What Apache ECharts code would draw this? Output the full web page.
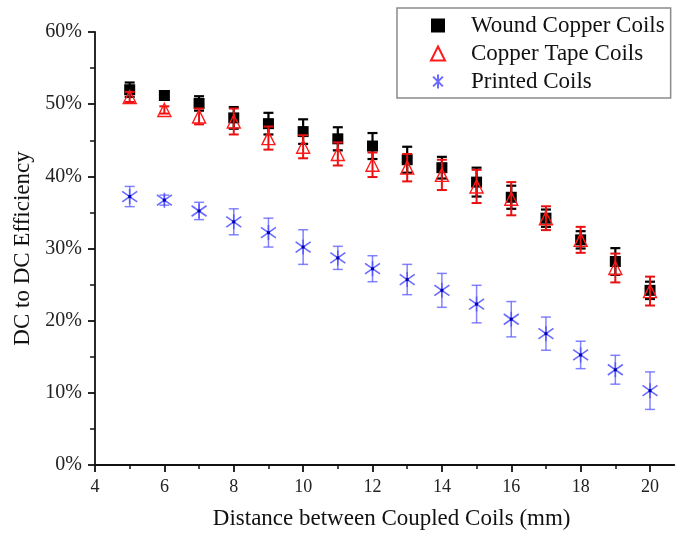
<!DOCTYPE html>
<html><head><meta charset="utf-8">
<script src="https://cdn.jsdelivr.net/npm/echarts@6/dist/echarts.min.js"></script>
<style>html,body{margin:0;padding:0;background:#fff}#c{width:677px;height:537px}</style>
</head><body><div id="c"></div>
<script>
const distances = [5,6,7,8,9,10,11,12,13,14,15,16,17,18,19,20];
const woundCopper = [52.0,51.2,50.1,48.1,47.3,46.2,45.2,44.2,42.3,41.2,39.2,37.1,34.2,31.2,28.2,24.2];
const woundCopperErr = [1.0,0.6,1.0,1.5,1.5,1.7,1.6,1.8,1.8,1.5,2.0,1.6,1.2,1.2,1.85,1.2];
const copperTape = [51.0,49.2,48.3,47.6,45.3,44.1,43.1,41.6,41.2,40.2,38.6,36.9,34.2,31.2,27.3,24.1];
const copperTapeErr = [0.7,0.5,1.1,1.8,1.6,1.6,1.6,1.7,1.9,2.1,2.3,2.3,1.65,1.8,2.0,2.0];
const printed = [37.2,36.7,35.2,33.7,32.2,30.2,28.7,27.2,25.7,24.2,22.3,20.2,18.2,15.25,13.2,10.3];
const printedErr = [1.4,0.7,1.2,1.8,2.0,2.4,1.6,1.8,2.1,2.35,2.6,2.45,2.3,1.9,2.0,2.6];
const xMajorTicks = [4,6,8,10,12,14,16,18,20];
const xMinorTicks = [5,7,9,11,13,15,17,19];
const names = ['Wound Copper Coils','Copper Tape Coils','Printed Coils'];

const font = '"Liberation Serif", "Times New Roman", serif';
function pts(vals){ return distances.map((d,i)=>[d, vals[i]]); }
function errData(vals, errs){ return distances.map((d,i)=>[d, vals[i], errs[i]]); }
function errSeries(vals, errs, color, width){
  return {
    type:'custom', name:'err', silent:true, z:2,
    data: errData(vals, errs),
    renderItem: function(params, api){
      const x = api.value(0), v = api.value(1), e = api.value(2);
      const top = api.coord([x, v+e]), bot = api.coord([x, v-e]);
      const w = 5;
      const st = {stroke: color, lineWidth: width, fill: null};
      return {type:'group', children:[
        {type:'line', shape:{x1:top[0], y1:top[1], x2:bot[0], y2:bot[1]}, style:st},
        {type:'line', shape:{x1:top[0]-w, y1:top[1], x2:top[0]+w, y2:top[1]}, style:st},
        {type:'line', shape:{x1:bot[0]-w, y1:bot[1], x2:bot[0]+w, y2:bot[1]}, style:st}
      ]};
    }
  };
}
const asterisk = 'path://M10,0L10,20M3,3L17,17M3,17L17,3';

const chart = echarts.init(document.getElementById('c'));
chart.setOption({
  animation:false,
  backgroundColor:'#fff',
  grid:{left:95, top:32, right:2.7, bottom:72},
  legend:{
    data:names, orient:'vertical', left:397, top:8,
    padding:[6,6,5,33], itemGap:5, itemWidth:14, itemHeight:14,
    borderColor:'#8a8a8a', borderWidth:1.5,
    textStyle:{fontFamily:font, fontSize:23, color:'#111', padding:[0,0,0,21]}
  },
  xAxis:[{
    type:'value', min:4, max:20.7,
    name:'Distance between Coupled Coils (mm)', nameLocation:'middle', nameGap:42,
    nameTextStyle:{fontFamily:font, fontSize:23, color:'#111', padding:[0,0,0,14]},
    axisLine:{show:true, lineStyle:{color:'#111', width:1.8}},
    axisTick:{show:true, customValues:xMajorTicks, length:7, lineStyle:{color:'#111', width:1.8}},
    axisLabel:{customValues:xMajorTicks, fontFamily:font, fontSize:18, color:'#222', margin:13},
    splitLine:{show:false}
  },{
    type:'value', min:4, max:20.7, position:'bottom',
    axisLine:{show:false},
    axisTick:{show:true, customValues:xMinorTicks, length:4, lineStyle:{color:'#111', width:1.5}},
    axisLabel:{show:false}, splitLine:{show:false}
  }],
  yAxis:{
    type:'value', min:0, max:60, interval:10,
    name:'DC to DC Efficiency', nameLocation:'middle', nameGap:57,
    nameTextStyle:{fontFamily:font, fontSize:23, color:'#111'},
    axisLine:{show:true, lineStyle:{color:'#111', width:1.8}},
    axisTick:{show:true, length:7, lineStyle:{color:'#111', width:1.8}},
    minorTick:{show:true, splitNumber:2, length:5, lineStyle:{color:'#111', width:1.5}},
    axisLabel:{formatter:'{value}%', fontFamily:font, fontSize:20, color:'#222', margin:13},
    splitLine:{show:false}
  },
  series:[
    errSeries(printed, printedErr, 'rgba(90,90,255,0.75)', 1.5),
    {type:'scatter', name:names[2], data:pts(printed), symbol:asterisk, symbolSize:15, z:3,
     itemStyle:{color:'none', borderColor:'rgba(80,80,255,0.85)', borderWidth:1.6, opacity:1}},
    {type:'scatter', name:'dot', data:pts(printed), symbol:'rect', symbolSize:3, z:4,
     itemStyle:{color:'#0000b0', opacity:1}},
    errSeries(woundCopper, woundCopperErr, '#000', 2.2),
    {type:'scatter', name:names[0], data:pts(woundCopper), symbol:'rect', symbolSize:11, z:3,
     itemStyle:{color:'#000', opacity:1}},
    {type:'scatter', name:names[1], data:pts(copperTape), symbol:'triangle', symbolSize:13, z:5,
     itemStyle:{color:'rgba(255,255,255,0)', borderColor:'#ff1a1a', borderWidth:1.4, opacity:1}},
    Object.assign(errSeries(copperTape, copperTapeErr, '#e81010', 2), {z:4})
  ]
});
</script></body></html>
